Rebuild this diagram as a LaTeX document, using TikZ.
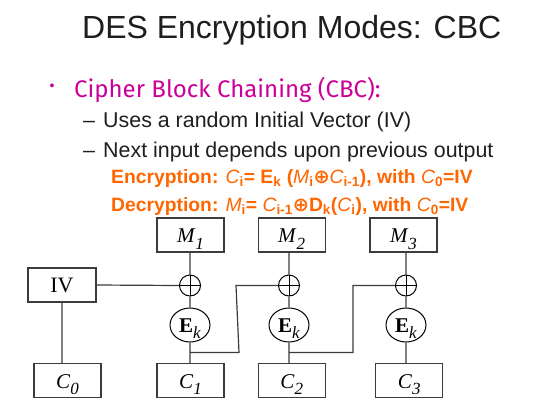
\documentclass[tikz,border=0pt]{standalone}
\usepackage{fontspec}
\setmainfont{Liberation Sans}
\newfontfamily\serifdia{Liberation Serif}
\newfontfamily\casual{Fira Sans}
\newfontfamily\symfam{DejaVu Sans}
\usetikzlibrary{shapes.geometric}
\definecolor{headink}{RGB}{30,30,30}
\definecolor{bulletmag}{RGB}{204,0,153}
\definecolor{formulaor}{RGB}{255,102,0}
\definecolor{wire}{RGB}{60,60,60}
% block label with an italic, well lowered index
\newcommand{\blk}[2]{\textit{#1}\raisebox{-6.5pt}{\fontsize{17}{17}\selectfont\textit{#2}}}
\newcommand{\enc}{\textbf{E}\raisebox{-6pt}{\fontsize{17}{17}\selectfont\textit{k}}}
% formula helpers
\newcommand{\vi}[2]{\textit{\mdseries #1}\textsubscript{#2}}
\newcommand{\xo}{{\symfam\bfseries ⊕}}
\begin{document}
\begin{tikzpicture}[x=1pt,y=-1pt,
  blockbox/.style={draw=wire,line width=1.2pt,minimum width=67pt,minimum height=34pt,inner sep=0pt,
    text height=18pt,text depth=3pt,font=\serifdia\fontsize{21}{21}\selectfont},
  xorgate/.style={circle,draw=black,line width=1pt,minimum size=21pt,inner sep=0pt,
    path picture={\draw[line width=1pt] (path picture bounding box.north) -- (path picture bounding box.south)
      (path picture bounding box.west) -- (path picture bounding box.east);}},
  encbox/.style={ellipse,draw=black,line width=1pt,minimum width=40pt,minimum height=34pt,inner sep=0pt,
    text height=18pt,text depth=3pt,font=\serifdia\fontsize{21}{21}\selectfont},
  link/.style={draw=wire,line width=1.2pt},
  headline/.style={anchor=base west,inner sep=0pt,text=headink,font=\fontsize{32}{32}\selectfont},
  subline/.style={anchor=base west,inner sep=0pt,text=headink,font=\fontsize{21.4}{22}\selectfont},
  formula/.style={anchor=base west,inner sep=0pt,text=formulaor,font=\bfseries\fontsize{19.3}{20}\selectfont}]
\useasboundingbox (0,0) rectangle (545,415);

% heading and bullet text
\node[headline] (title) at (82,38) {DES Encryption Modes: CBC};
\node[text=bulletmag,font=\fontsize{14}{14}\selectfont,inner sep=0pt] (dot) at (52,87) {•};
\node[anchor=base west,inner sep=0pt,text=bulletmag,font=\casual\fontsize{24}{24}\selectfont] (cbc) at (74,97) {Cipher Block Chaining (CBC):};
\node[subline] (d1) at (83,127) {–};
\node[subline] (s1) at (103,127) {Uses a random Initial Vector (IV)};
\node[subline] (d2) at (83,157) {–};
\node[subline] (s2) at (103,157) {Next input depends upon previous output};
\node[formula] (encf) at (111,183) {Encryption: \vi{C}{i}= E\textsubscript{k} (\vi{M}{i}\xo\vi{C}{i-1}), with \vi{C}{0}=IV};
\node[formula] (decf) at (111,211) {Decryption: \vi{M}{i}= \vi{C}{i-1}\xo D\textsubscript{k}(\vi{C}{i}), with \vi{C}{0}=IV};

% plaintext blocks
\node[blockbox] (m1) at (190.5,235) {\blk{M}{1}};
\node[blockbox] (m2) at (291.7,235) {\blk{M}{2}};
\node[blockbox] (m3) at (403.5,235) {\blk{M}{3}};
% initial vector
\node[blockbox,minimum width=68pt,font=\serifdia\fontsize{22}{22}\selectfont] (iv) at (62,285) {IV};
% xor gates and encryption steps
\node[xorgate] (x1) at (190,285.5) {};
\node[xorgate] (x2) at (289,285.5) {};
\node[xorgate] (x3) at (406,285.5) {};
\node[encbox] (e1) at (190,325) {\enc};
\node[encbox] (e2) at (289,325) {\enc};
\node[encbox] (e3) at (406,325) {\enc};
% ciphertext blocks
\node[blockbox] (c0) at (67.5,380.5) {\blk{C}{0}};
\node[blockbox] (c1) at (190.5,380.5) {\blk{C}{1}};
\node[blockbox] (c2) at (291.7,380.5) {\blk{C}{2}};
\node[blockbox] (c3) at (409.3,380.5) {\blk{C}{3}};

% chaining wires
\coordinate (t1) at (190,352.5);
\coordinate (r1) at (239,352.5);
\coordinate (u1) at (236,285.5);
\coordinate (t2) at (289,352.5);
\coordinate (r2) at (353,352.5);
\coordinate (u2) at (353,285.5);

\path[link] (x1.north) -- (x1.north |- m1.south)
  (x2.north) -- (x2.north |- m2.south)
  (x3.north) -- (x3.north |- m3.south)
  (x1.south) -- (e1.north)
  (x2.south) -- (e2.north)
  (x3.south) -- (e3.north)
  (e1.south) -- (e1.south |- c1.north)
  (e2.south) -- (e2.south |- c2.north)
  (e3.south) -- (e3.south |- c3.north)
  (iv.east) -- (x1.west)
  (iv.south) -- (iv.south |- c0.north)
  (t1) -- (r1) -- (u1) -- (x2.west)
  (t2) -- (r2) -- (u2) -- (x3.west);
\end{tikzpicture}
\end{document}
